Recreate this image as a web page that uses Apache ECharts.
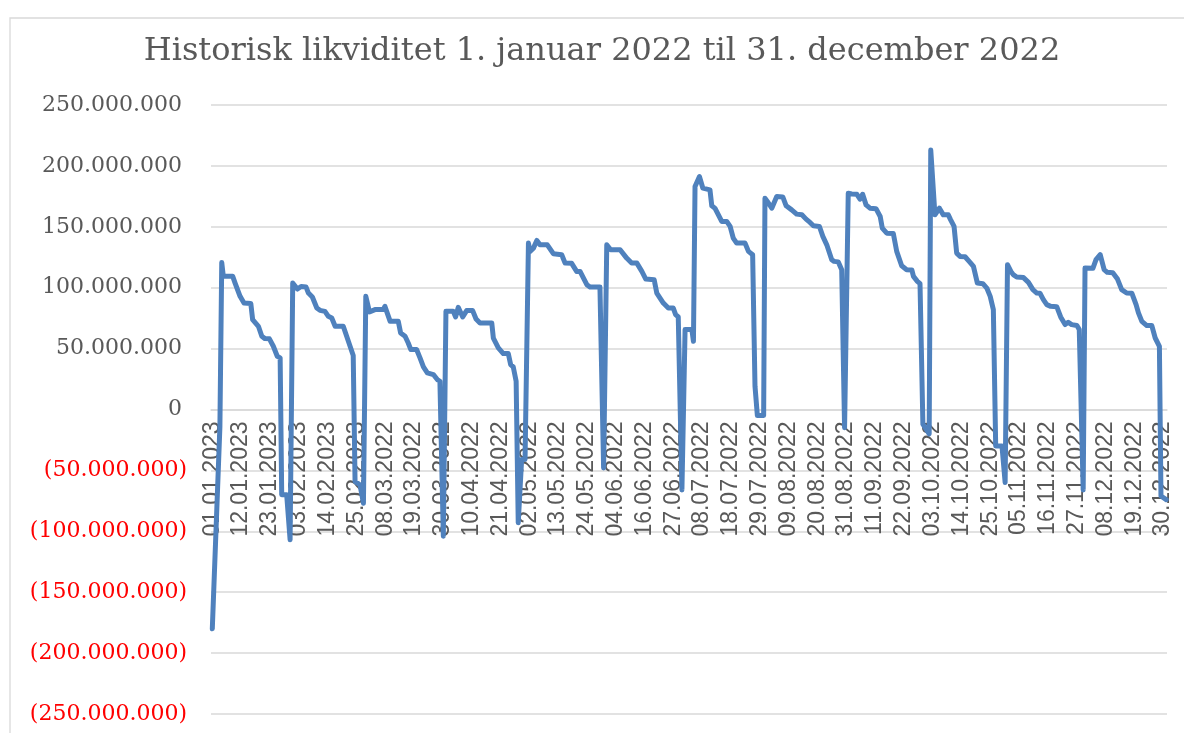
<!DOCTYPE html>
<html>
<head>
<meta charset="utf-8">
<script src="https://cdn.jsdelivr.net/npm/echarts@6/dist/echarts.min.js"></script>
<style>
html,body{margin:0;padding:0;background:#fff;}
#chart{width:1184px;height:733px;}
</style>
</head>
<body>
<div id="chart"></div>
<script>
// Tick labels on the category (date) axis, one every 11 days
const xTickLabels = ["01.01.2023","12.01.2023","23.01.2023","03.02.2023","14.02.2023","25.02.2023",
  "08.03.2022","19.03.2022","30.03.2022","10.04.2022","21.04.2022","02.05.2022","13.05.2022",
  "24.05.2022","04.06.2022","16.06.2022","27.06.2022","08.07.2022","18.07.2022","29.07.2022",
  "09.08.2022","20.08.2022","31.08.2022","11.09.2022","22.09.2022","03.10.2022","14.10.2022",
  "25.10.2022","05.11.2022","16.11.2022","27.11.2022","08.12.2022","19.12.2022","30.12.2022"];
const xTickStep = 11;

// Day index (0 = 1 Jan) of each vertex of the line
const dayIndex = [0, 2.9, 3.6, 4.2, 7.8, 8.7, 10.6, 12.1, 14.7, 15.4, 17.6, 18.9, 20.1, 21.8, 23.3, 24.8, 25.9, 26.5, 28.4, 29.7, 30.7,
  32.5, 33.9, 35.8, 36.7, 38.2, 39.9, 41.1, 43.0, 44.3, 45.6, 46.9, 50.0, 51.3, 52.6, 53.8, 54.5, 56.4, 57.7, 58.6,
  60.0, 62.1, 65.3, 65.9, 67.9, 71.0, 71.9, 73.6, 74.8, 75.8, 78.0, 79.3, 80.6, 82.1, 84.4, 85.9, 86.9, 88.2, 89.2,
  92.0, 92.9, 93.9, 95.6, 97.1, 99.4, 100.7, 102.2, 106.7, 107.3, 109.2, 111.1, 113.0, 113.9, 114.9, 116.0, 116.8, 118.1, 119.4, 120.7,
  121.3, 122.6, 123.9, 125.1, 127.9, 130.2, 133.4, 134.7, 137.2, 139.1, 140.4, 143.0, 144.2, 148.0, 149.4, 150.6,
  152.1, 155.7, 158.2, 160.1, 162.1, 164.0, 165.5, 168.7, 169.7, 172.2, 174.1, 176.0, 176.9, 177.9, 179.3, 180.5, 183.1, 183.7, 184.3, 186.0, 187.3, 190.0, 190.7, 191.9, 194.5, 196.4, 197.7, 198.9, 200.2, 203.4, 204.7, 206.3, 206.8, 207.2, 208.1, 210.5, 211.0,
  211.9, 213.6, 215.5, 217.8, 219.1, 221.2, 223.1, 225.1, 226.7, 228.2, 229.5, 231.8, 233.1, 234.6, 236.5, 237.4, 239.0, 240.3, 241.4, 242.8,
  244.1, 246.1, 247.3, 248.3, 249.6, 251.1, 253.4, 255.0, 255.8, 257.5, 260.0, 261.3, 263.2, 265.1, 267.1, 267.7, 269.2, 270.2, 271.3, 273.7, 274.3,
  275.9, 277.6, 279.1, 281.0, 281.9, 283.2, 284.2, 285.5, 287.4, 289.3, 290.6, 292.1, 294.2, 295.7, 297.0, 298.2, 299.1, 301.5, 302.7, 303.6,
  304.9, 305.8, 307.1, 309.7, 311.6, 313.3, 314.8, 316.0, 317.3, 318.6, 320.1, 322.4, 323.9, 325.6, 326.8, 328.1, 330.1, 331.0, 332.5, 333.2,
  336.2, 337.4, 339.0, 340.5, 341.7, 343.8, 345.6, 347.2, 349.1, 351.1, 352.7, 353.6, 354.9, 356.8, 358.7, 360.0, 361.6, 362.2, 364.2];

// Liquidity in millions (DKK)
const liquidityMio = [-180, -14, 120.7, 109.3, 109.3, 103.8, 92.9, 87.4, 87, 73.8, 68.3, 60.1, 58.2, 58, 51.9, 43.7, 42.4, -70, -70, -107, 103.8,
  98.9, 101, 100.5, 95.6, 92.4, 83.3, 81.4, 80.6, 76.5, 75.1, 68.3, 68.3, 60.1, 51.9, 44.3, -59, -62, -77, 92.9,
  80.1, 82, 82, 84.7, 72.4, 72.4, 62.8, 60.1, 54.6, 49.2, 49.2, 42.4, 35, 30.1, 28.7, 24.6, 23.2, -104, 80.6,
  80.6, 76, 83.9, 76, 81.2, 81.2, 74.3, 71, 71, 58.7, 50.6, 45.9, 45.9, 36.9, 35, 23.2, -93, -41, -41, 136.6,
  129.8, 132.5, 138.8, 135.2, 135.2, 127.9, 127.1, 120.2, 120, 113.4, 113.4, 102.5, 100.5, 100.5, -48, 135.2,
  131.2, 131.2, 124.3, 120.2, 120.2, 113.4, 107.1, 106.6, 95.6, 87.4, 83.3, 83.3, 77.9, 76, -66, 65.6, 65.6, 56, 183, 191.2, 181.7, 180.3, 167.2, 165.3, 154.4, 154.4, 150.3, 140.7, 136.6, 136.6, 129.8, 127.1, 125.7, 19.1, -5, -5, 173.5,
  170.8, 165.3, 174.8, 174.5, 167.2, 163.9, 160.4, 159.9, 156.3, 153.6, 150.8, 150.3, 142.1, 135.2, 123, 121.6, 121.2, 114.8, -15, 177.6,
  176.9, 176.7, 172.7, 176.7, 168, 165.3, 164.9, 158.5, 148.9, 144.8, 144.6, 129.8, 118, 114.8, 114.5, 109.3, 105.2, 103.3, -12, -20, 213.1,
  159.8, 165.3, 159.8, 159.8, 155.7, 150.3, 128.4, 125.7, 125.4, 120.8, 117.5, 103.8, 103.3, 99.7, 92.9, 82, -30, -30, -60, 118.9,
  113.4, 110.7, 108.8, 108.3, 104.4, 98.4, 95.6, 95.4, 90.2, 86.1, 84.7, 84.4, 76, 69.7, 71.6, 69.7, 68.9, 65.6, -66, 116.1,
  115.9, 123, 127.1, 114.8, 112.6, 112.3, 107.1, 98.4, 95.6, 95.4, 86.1, 79.3, 72.4, 68.9, 68.9, 58.7, 51.9, -71, -74];

const yMin = -250000000, yMax = 250000000, yStep = 50000000;

const seriesData = dayIndex.map((d, i) => [d, liquidityMio[i] * 1e6]);
const tickPositions = xTickLabels.map((_, i) => i * xTickStep);

function fmtThousands(n) {
  return String(Math.round(n)).replace(/\B(?=(\d{3})+(?!\d))/g, '.');
}

const gridTop = 105, gridBottom = 19, chartH = 733;
// shift the date axis from the bottom of the grid up to the zero line
const zeroOffset = -((chartH - gridBottom - gridTop) * (0 - yMin) / (yMax - yMin));

const chart = echarts.init(document.getElementById('chart'), null, {renderer: 'canvas'});
chart.setOption({
  backgroundColor: '#ffffff',
  animation: false,
  title: {
    text: 'Historisk likviditet 1. januar 2022 til 31. december 2022',
    left: 597,
    top: 31,
    textAlign: 'center',
    textStyle: {fontFamily: 'DejaVu Serif', fontSize: 32, fontWeight: 'normal', color: '#595959'}
  },
  graphic: [{
    type: 'rect', silent: true, z: -1,
    shape: {x: 10, y: 18, width: 1200, height: 800},
    style: {fill: null, stroke: '#d9d9d9', lineWidth: 1.3}
  }],
  grid: {left: 211, right: 17, top: gridTop, bottom: gridBottom, containLabel: false, outerBoundsMode: 'none'},
  xAxis: {
    type: 'value',
    position: 'bottom',
    offset: zeroOffset,
    min: -0.5,
    max: 364.5,
    axisLine: {show: true, onZero: false, lineStyle: {color: '#d9d9d9', width: 1.5}},
    axisTick: {show: false},
    splitLine: {show: false},
    axisLabel: {
      customValues: tickPositions,
      rotate: 90,
      margin: 12,
      fontFamily: 'Liberation Sans',
      fontSize: 23,
      color: '#595959',
      hideOverlap: false,
      formatter: function (v) { return xTickLabels[Math.round(v / xTickStep)] || ''; }
    }
  },
  yAxis: {
    type: 'value',
    min: yMin,
    max: yMax,
    interval: yStep,
    axisLine: {show: false, onZero: false},
    axisTick: {show: false},
    splitLine: {show: true, lineStyle: {color: '#d9d9d9', width: 1.5}},
    axisLabel: {
      margin: 24,
      fontFamily: 'DejaVu Serif',
      fontSize: 22,
      formatter: function (v) {
        if (v < 0) return '{neg|(' + fmtThousands(-v) + ')}';
        return '{pos|' + fmtThousands(v) + '}';
      },
      rich: {
        neg: {color: '#ff0000', fontFamily: 'DejaVu Serif', fontSize: 22},
        pos: {color: '#595959', fontFamily: 'DejaVu Serif', fontSize: 22, padding: [0, 5, 0, 0]}
      }
    }
  },
  series: [{
    type: 'line',
    data: seriesData,
    showSymbol: false,
    symbol: 'none',
    lineStyle: {color: '#4f81bd', width: 5, join: 'round', cap: 'round'},
    z: 5
  }]
});
</script>
</body>
</html>
